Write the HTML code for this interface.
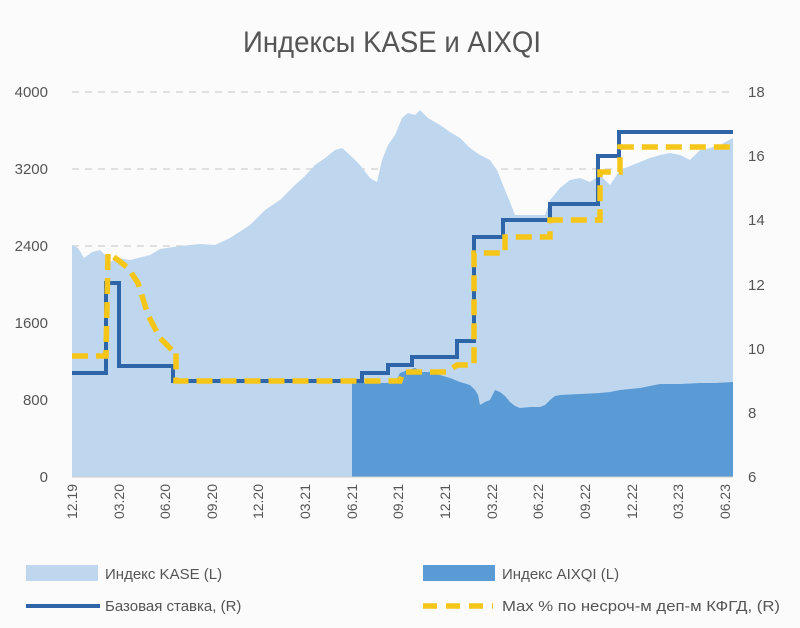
<!DOCTYPE html>
<html><head><meta charset="utf-8"><style>
html,body{margin:0;padding:0;background:#fbfbfb;}
svg{display:block;font-family:"Liberation Sans",sans-serif;}
</style></head><body>
<svg width="800" height="628" viewBox="0 0 800 628">
<rect width="800" height="628" fill="#fbfbfb"/>
<text x="392" y="52" text-anchor="middle" font-size="30" fill="#555" textLength="298" lengthAdjust="spacingAndGlyphs">Индексы KASE и AIXQI</text>
<g stroke="#d8d8d8" stroke-width="1.5" stroke-dasharray="7,6">
<line x1="72" y1="92" x2="733" y2="92"/><line x1="72" y1="169" x2="733" y2="169"/><line x1="72" y1="246" x2="733" y2="246"/>
</g>
<path fill="#bfd7ee" d="M72,477 L72,245 L78,248 L84,258 L92,252 L100,250 L106,256 L110,262 L118,258 L130,260 L150,255 L160,249 L180,246 L200,244 L215,245 L230,238 L250,225 L265,210 L280,200 L295,185 L305,176 L315,165 L325,158 L335,150 L342,148 L350,155 L360,165 L370,178 L377,182 L382,160 L388,145 L395,135 L402,118 L408,113 L415,115 L420,110 L428,118 L440,125 L450,132 L460,138 L470,148 L480,155 L490,160 L497,170 L503,185 L510,202 L515,215 L545,215 L550,200 L560,188 L570,180 L580,178 L590,182 L600,175 L610,185 L620,170 L630,166 L640,162 L650,158 L660,155 L670,153 L680,155 L690,160 L700,150 L710,148 L720,145 L733,138 L733,477 Z"/>
<path fill="#5b9bd5" d="M352,477 L352,383 L395,383 L400,373 L408,370 L415,368 L422,372 L430,372 L440,375 L450,378 L460,382 L470,385 L475,390 L478,395 L480,405 L485,402 L490,400 L495,390 L500,392 L505,396 L510,402 L515,406 L520,408 L530,407 L540,407 L545,405 L550,400 L555,396 L560,395 L580,394 L600,393 L610,392 L620,390 L640,388 L660,384 L680,384 L700,383 L715,383 L733,382 L733,477 Z"/>
<g stroke="#ccc" stroke-width="1"><line x1="72" y1="477" x2="733" y2="477"/></g>
<polyline fill="none" stroke="#2e64a8" stroke-width="4" points="72,373 106,373 106,283 119,283 119,366 173,366 173,381 362,381 362,373 388,373 388,365 412,365 412,357 457,357 457,341 474,341 474,237 503,237 503,220 550,220 550,204 598,204 598,156 619,156 619,132 733,132"/>
<polyline fill="none" stroke="#f5c518" stroke-width="5.5" stroke-dasharray="16,8" points="72,356 106,356 108,253 118,260 128,268 138,283 148,315 160,338 172,350 176,350 176,381 400,381 403,372 447,372 457,365 474,365 474,253 505,253 505,237 550,237 550,220 600,220 600,172 620,172 620,147 733,147"/>
<g font-size="15" fill="#555">
<text x="48" y="97" text-anchor="end">4000</text>
<text x="48" y="174" text-anchor="end">3200</text>
<text x="48" y="251" text-anchor="end">2400</text>
<text x="48" y="328" text-anchor="end">1600</text>
<text x="48" y="405" text-anchor="end">800</text>
<text x="48" y="482" text-anchor="end">0</text>
<text x="748" y="97">18</text><text x="748" y="161">16</text><text x="748" y="225">14</text><text x="748" y="290">12</text><text x="748" y="354">10</text><text x="748" y="418">8</text><text x="748" y="482">6</text>
</g>
<g font-size="14" fill="#555" text-anchor="end">
<text transform="translate(77,484) rotate(-90)">12.19</text>
<text transform="translate(124,484) rotate(-90)">03.20</text>
<text transform="translate(170,484) rotate(-90)">06.20</text>
<text transform="translate(217,484) rotate(-90)">09.20</text>
<text transform="translate(263,484) rotate(-90)">12.20</text>
<text transform="translate(310,484) rotate(-90)">03.21</text>
<text transform="translate(357,484) rotate(-90)">06.21</text>
<text transform="translate(403,484) rotate(-90)">09.21</text>
<text transform="translate(450,484) rotate(-90)">12.21</text>
<text transform="translate(497,484) rotate(-90)">03.22</text>
<text transform="translate(543,484) rotate(-90)">06.22</text>
<text transform="translate(590,484) rotate(-90)">09.22</text>
<text transform="translate(637,484) rotate(-90)">12.22</text>
<text transform="translate(683,484) rotate(-90)">03.23</text>
<text transform="translate(730,484) rotate(-90)">06.23</text>
</g>
<rect x="26" y="565" width="72" height="16" fill="#bfd7ee"/>
<rect x="423" y="565" width="72" height="16" fill="#5b9bd5"/>
<line x1="26" y1="606" x2="100" y2="606" stroke="#2e64a8" stroke-width="4"/>
<line x1="423" y1="606" x2="493" y2="606" stroke="#f5c518" stroke-width="5.5" stroke-dasharray="14,9"/>
<g font-size="15" fill="#555">
<text x="105" y="579">Индекс KASE (L)</text>
<text x="502" y="579">Индекс AIXQI (L)</text>
<text x="105" y="611">Базовая ставка, (R)</text>
<text x="502" y="611" textLength="278" lengthAdjust="spacingAndGlyphs">Max % по несроч-м деп-м КФГД, (R)</text>
</g>
</svg>
</body></html>
